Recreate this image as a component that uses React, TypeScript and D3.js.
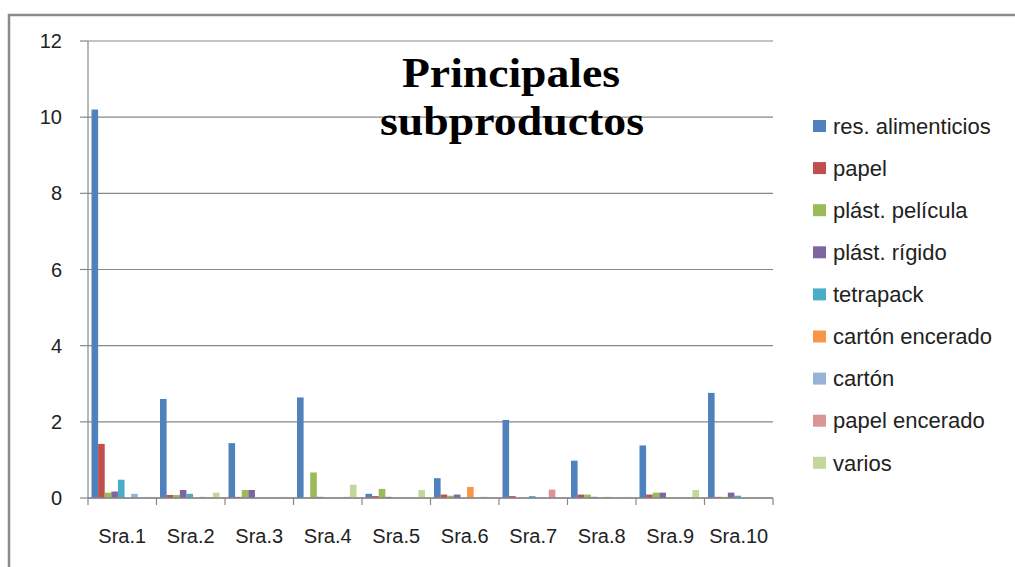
import React from "react";
import * as d3 from "d3";

const categories = ["Sra.1", "Sra.2", "Sra.3", "Sra.4", "Sra.5", "Sra.6", "Sra.7", "Sra.8", "Sra.9", "Sra.10"];
const seriesNames = [
  "res. alimenticios",
  "papel",
  "plást. película",
  "plást. rígido",
  "tetrapack",
  "cartón encerado",
  "cartón",
  "papel encerado",
  "varios",
];
const seriesColors = ["#4F81BD", "#C0504D", "#9BBB59", "#8064A2", "#4BACC6", "#F79646", "#95B3D7", "#D99694", "#C3D69B"];

const resAlimenticios = [10.2, 2.6, 1.44, 2.64, 0.11, 0.52, 2.05, 0.98, 1.38, 2.76];
const papel = [1.42, 0.08, 0.03, 0, 0.05, 0.09, 0.05, 0.09, 0.09, 0.03];
const plastPelicula = [0.14, 0.08, 0.21, 0.67, 0.24, 0.06, 0, 0.09, 0.14, 0.03];
const plastRigido = [0.17, 0.21, 0.21, 0.03, 0.03, 0.09, 0, 0.03, 0.14, 0.14];
const tetrapack = [0.48, 0.11, 0, 0, 0, 0, 0.05, 0, 0, 0.06];
const cartonEncerado = [0, 0, 0, 0, 0, 0.29, 0, 0.03, 0, 0];
const carton = [0.11, 0.03, 0, 0, 0, 0, 0, 0, 0, 0];
const papelEncerado = [0, 0, 0, 0.03, 0, 0.03, 0.22, 0, 0, 0];
const varios = [0.03, 0.14, 0.03, 0.35, 0.21, 0, 0, 0.03, 0.21, 0];

const seriesValues = [resAlimenticios, papel, plastPelicula, plastRigido, tetrapack, cartonEncerado, carton, papelEncerado, varios];
const yTicks = [0, 2, 4, 6, 8, 10, 12];

export default function App() {
  const W = 1015;
  const H = 567;
  const left = 88;
  const right = 773;
  const top = 41;
  const bottom = 498;

  const x = d3.scaleBand<string>().domain(categories).range([left, right]).padding(0);
  const bw = x.bandwidth();
  const xs = d3.scaleBand<string>().domain(seriesNames).range([3.5, bw - 5.5]).padding(0);
  const y = d3.scaleLinear().domain([0, 12]).range([bottom, top]);

  const axisColor = "#878787";
  const sans = "'Liberation Sans', Arial, sans-serif";

  return (
    <svg width={W} height={H} style={{ position: "absolute", left: 0, top: 0, background: "#fff" }}>
      {/* chart border */}
      <rect x={9} y={15} width={W + 20} height={H + 20} fill="#fff" stroke="#8a8a8a" strokeWidth={2.5} />

      {/* gridlines */}
      {yTicks.map((t) => (
        <g key={"g" + t}>
          <line x1={left} x2={right} y1={y(t)} y2={y(t)} stroke={axisColor} strokeWidth={1.2} />
          <line x1={left - 8} x2={left} y1={y(t)} y2={y(t)} stroke={axisColor} strokeWidth={1.2} />
          <text x={62} y={y(t)} dy="0.35em" textAnchor="end" fontFamily={sans} fontSize={20} fill="#222">
            {t}
          </text>
        </g>
      ))}

      {/* title */}
      <g fontFamily="'Liberation Serif', 'Times New Roman', serif" fontWeight="bold" fill="#000" textAnchor="middle">
        <text x={511} y={87} fontSize={42} textLength={218} lengthAdjust="spacingAndGlyphs">
          Principales
        </text>
        <text x={512} y={135} fontSize={42} textLength={264} lengthAdjust="spacingAndGlyphs">
          subproductos
        </text>
      </g>

      {/* bars */}
      {categories.map((c, ci) => (
        <g key={c} transform={`translate(${x(c)},0)`}>
          {seriesNames.map((s, si) => {
            const v = seriesValues[si][ci];
            if (v <= 0) return null;
            return (
              <rect
                key={s}
                x={xs(s)}
                y={y(v)}
                width={xs.bandwidth()}
                height={bottom - y(v)}
                fill={seriesColors[si]}
              />
            );
          })}
        </g>
      ))}

      {/* axes */}
      <line x1={left} x2={left} y1={top} y2={bottom} stroke={axisColor} strokeWidth={1.2} />
      <line x1={left} x2={right} y1={bottom} y2={bottom} stroke={axisColor} strokeWidth={1.5} />
      {categories.map((c) => (
        <line key={"t" + c} x1={x(c)} x2={x(c)} y1={bottom} y2={bottom + 7} stroke={axisColor} strokeWidth={1.2} />
      ))}
      <line x1={right} x2={right} y1={bottom} y2={bottom + 7} stroke={axisColor} strokeWidth={1.2} />
      {categories.map((c) => (
        <text key={"l" + c} x={(x(c) as number) + bw / 2} y={543} textAnchor="middle" fontFamily={sans} fontSize={20} fill="#222">
          {c}
        </text>
      ))}

      {/* legend */}
      {seriesNames.map((s, i) => {
        const cy = 126 + i * 42.1;
        return (
          <g key={"lg" + s}>
            <rect x={813} y={cy - 6} width={13} height={12} fill={seriesColors[i]} />
            <text x={833} y={cy} dy="0.35em" fontFamily={sans} fontSize={22} fill="#222">
              {s}
            </text>
          </g>
        );
      })}
    </svg>
  );
}
